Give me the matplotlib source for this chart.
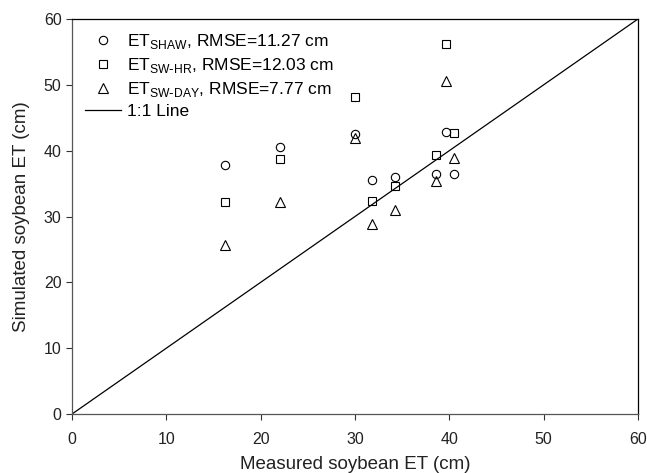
import matplotlib
matplotlib.use("Agg")
import matplotlib.pyplot as plt

plt.rcParams['font.family'] = ['Liberation Sans', 'DejaVu Sans']

measured = [16.2, 22.1, 30.0, 31.8, 34.2, 38.6, 39.6, 40.5]
et_shaw = [37.8, 40.6, 42.6, 35.5, 36.0, 36.4, 42.9, 36.4]
et_sw_hr = [32.2, 38.8, 48.1, 32.3, 34.7, 39.3, 56.2, 42.7]
et_sw_day = [25.7, 32.2, 41.9, 28.9, 31.0, 35.4, 50.6, 38.9]

fig = plt.figure(figsize=(6.47, 4.73), dpi=100)
ax = fig.add_axes([0.1113, 0.1247, 0.8747, 0.8351])

ax.plot(measured, et_shaw, 'o', mfc='none', mec='black', ms=6, mew=0.8,
        label='ET$_{\\mathregular{SHAW}}$, RMSE=11.27 cm')
ax.plot(measured, et_sw_hr, 's', mfc='none', mec='black', ms=6, mew=0.8,
        label='ET$_{\\mathregular{SW\\text{-}HR}}$, RMSE=12.03 cm')
ax.plot(measured, et_sw_day, '^', mfc='none', mec='black', ms=6.8, mew=0.8,
        label='ET$_{\\mathregular{SW\\text{-}DAY}}$, RMSE=7.77 cm')
ax.plot([0, 60], [0, 60], '-', color='black', lw=0.9, label='1:1 Line')

ax.set_xlim(0, 60)
ax.set_ylim(0, 60)
ax.set_xticks(range(0, 61, 10))
ax.set_yticks(range(0, 61, 10))
ax.tick_params(direction='out', length=4, width=0.8, labelsize=11.5,
               colors='#333333', labelcolor='#222222')
ax.tick_params(axis='x', pad=9)
for s in ax.spines.values():
    s.set_linewidth(0.9)
ax.spines['left'].set_color('#555555')
ax.spines['bottom'].set_color('#555555')
ax.set_xlabel('Measured soybean ET (cm)', fontsize=13.5, labelpad=6.5, color='#222222')
ax.set_ylabel('Simulated soybean ET (cm)', fontsize=13.5, labelpad=10, color='#222222')

ax.legend(loc='upper left', frameon=False, fontsize=12.5, handlelength=2.1,
          labelspacing=0.28, borderaxespad=0.35, handletextpad=0.3)

fig.savefig('out.png', dpi=100)
